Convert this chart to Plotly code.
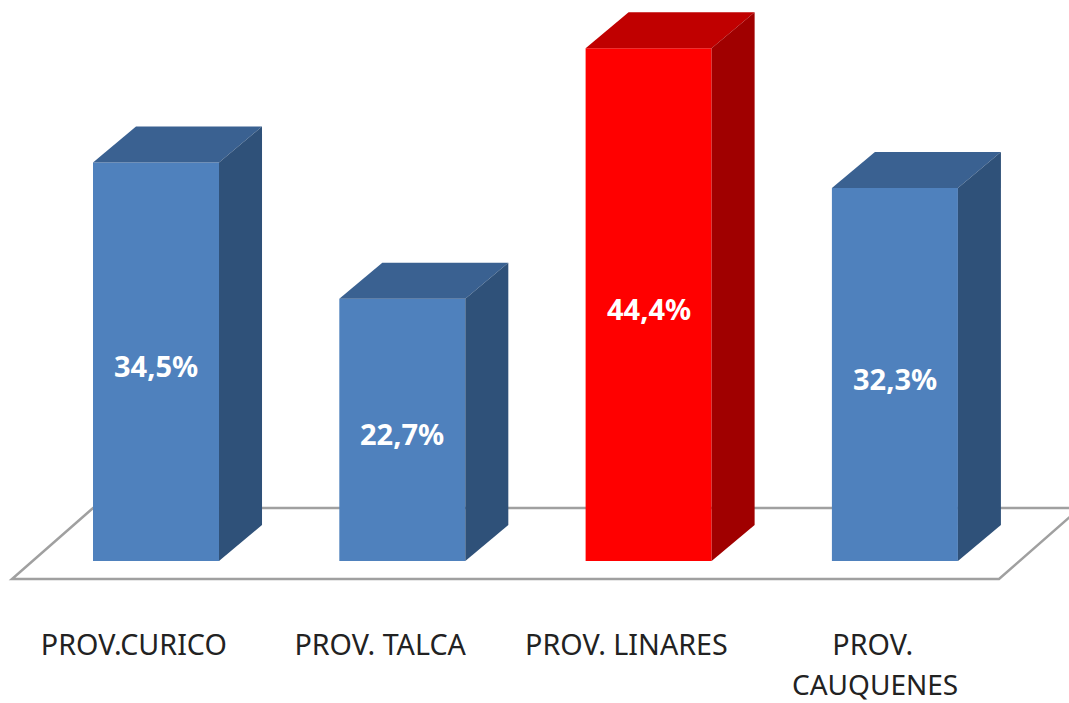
import plotly.graph_objects as go

categories = ["PROV.CURICO", "PROV. TALCA", "PROV. LINARES", "PROV."]
second_line = ["", "", "", "CAUQUENES"]
values = [34.5, 22.7, 44.4, 32.3]
value_labels = ["34,5%", "22,7%", "44,4%", "32,3%"]
front_colors = ["#4F81BD", "#4F81BD", "#FF0000", "#4F81BD"]
top_colors = ["#3A6191", "#3A6191", "#C00000", "#3A6191"]
side_colors = ["#2F5179", "#2F5179", "#A00000", "#2F5179"]

BAR_W = 0.5116
DX, DY = 0.1746, 3.117
LABEL_SHIFT = -0.09
FONT = "Noto Sans"
xs = list(range(len(values)))

fig = go.Figure()
fig.add_bar(x=xs, y=values, width=BAR_W, marker=dict(color=front_colors, line_width=0),
            hoverinfo="skip", showlegend=False)

for x, v, tc, sc in zip(xs, values, top_colors, side_colors):
    l, r = x - BAR_W / 2, x + BAR_W / 2
    fig.add_scatter(x=[l, r, r + DX, l + DX, l], y=[v, v, v + DY, v + DY, v], fill="toself",
                    fillcolor=tc, mode="none", hoverinfo="skip", showlegend=False)
    fig.add_scatter(x=[r, r + DX, r + DX, r, r], y=[0, DY, v + DY, v, 0], fill="toself",
                    fillcolor=sc, mode="none", hoverinfo="skip", showlegend=False)

# floor plane
fl, fr, fy = -0.5846, 3.4227, -1.558
fdx, fdy = 0.329, 6.15
fig.add_shape(type="path", layer="below",
              path=f"M{fl},{fy} L{fr},{fy} L{fr + fdx},{fy + fdy} L{fl + fdx},{fy + fdy} Z",
              line=dict(color="#A0A0A0", width=2.5), fillcolor="#FFFFFF")

for x, v, lab in zip(xs, values, value_labels):
    fig.add_annotation(x=x, y=v / 2, text=f"<b>{lab}</b>", showarrow=False, yshift=-4,
                       font=dict(family=FONT, size=29, color="#FFFFFF"))
for x, t in zip(xs, second_line):
    if t:
        fig.add_annotation(x=x + LABEL_SHIFT, xref="x", xshift=2, y=-0.0944, yref="paper", yanchor="middle",
                           text=t, showarrow=False,
                           font=dict(family=FONT, size=28, color="#222222"))

fig.update_layout(
    width=1069, height=703, margin=dict(l=0, r=0, t=0, b=78),
    paper_bgcolor="#FFFFFF", plot_bgcolor="#FFFFFF", showlegend=False,
    xaxis=dict(range=[-0.6334, 3.7068], tickmode="array",
               tickvals=[x + LABEL_SHIFT for x in xs], ticktext=categories,
               showgrid=False, zeroline=False, showline=False, ticks="", ticklen=0,
               tickfont=dict(family=FONT, size=28.7, color="#222222")),
    yaxis=dict(range=[-5.54, 48.57], visible=False),
)
fig.write_html("out.html", post_script="document.body.style.margin='0';",
               config=dict(displayModeBar=False))
